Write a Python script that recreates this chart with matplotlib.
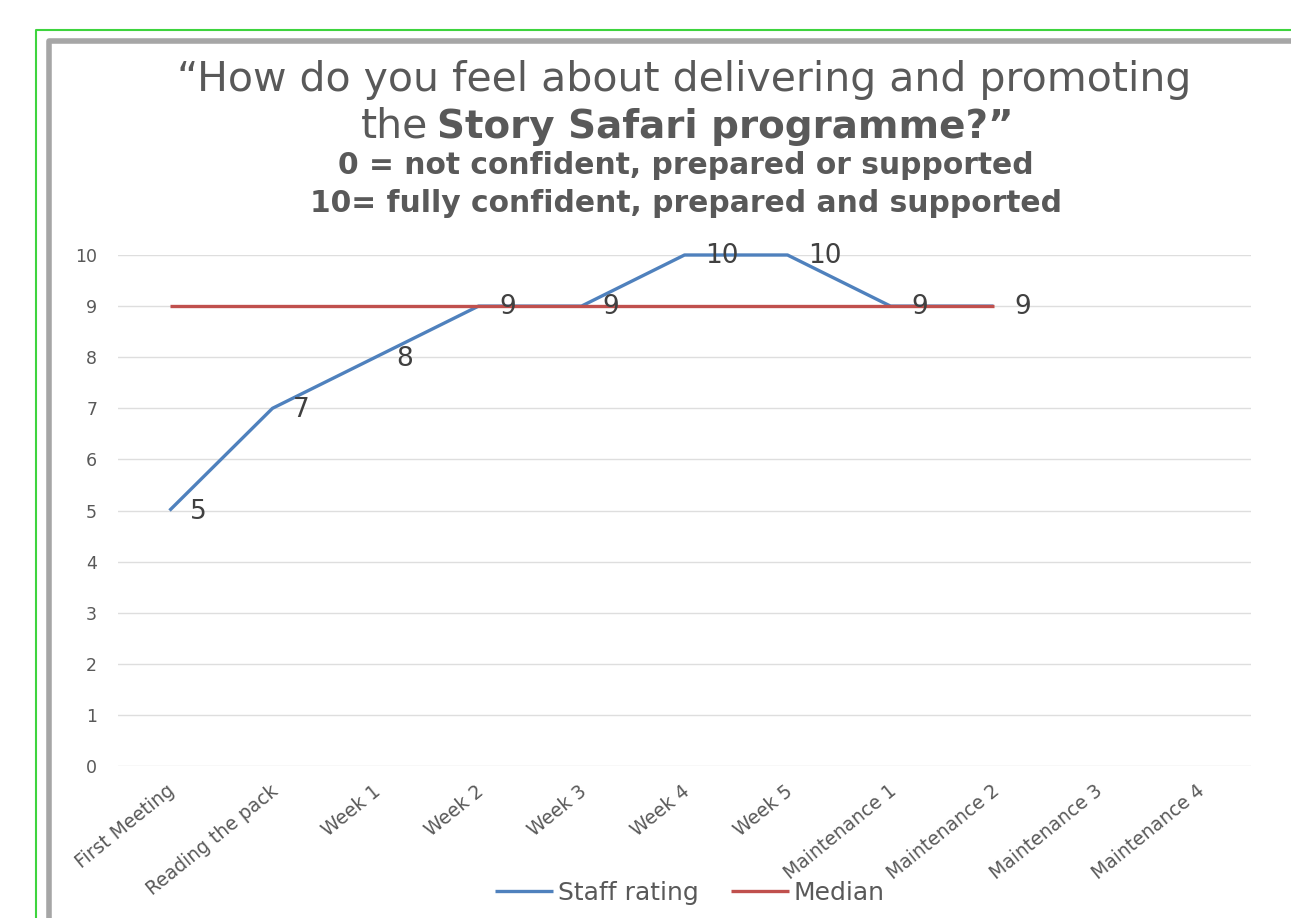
import matplotlib
matplotlib.use("Agg")
import matplotlib.pyplot as plt
from matplotlib.lines import Line2D
from matplotlib.transforms import offset_copy

# the reference text is wide (stretched Arial), DejaVu Sans is the closest width
plt.rcParams['font.family'] = ['DejaVu Sans']

# data
categories = ['First Meeting', 'Reading the pack', 'Week 1', 'Week 2', 'Week 3', 'Week 4',
              'Week 5', 'Maintenance 1', 'Maintenance 2', 'Maintenance 3', 'Maintenance 4']
staff_rating = [5, 7, 8, 9, 9, 10, 10, 9, 9]
median = [9, 9, 9, 9, 9, 9, 9, 9, 9]
y_ticks = list(range(0, 11))

W, H = 1291, 918
fig = plt.figure(figsize=(W / 100, H / 100), dpi=100)
fig.patch.set_facecolor('white')

def px(x, y):
    return x / W, 1 - y / H

# outer green frame and grey chart border (cut off on right / bottom)
fig.add_artist(Line2D([36 / W, 36 / W, 1.0], [0, 1 - 30 / H, 1 - 30 / H],
                      color='#3ed43e', lw=1.5, transform=fig.transFigure))
fig.add_artist(Line2D([48.5 / W, 48.5 / W, 1.0], [0, 1 - 40.5 / H, 1 - 40.5 / H],
                      color='#a6a6a6', lw=4, transform=fig.transFigure,
                      solid_capstyle='butt'))

ax = fig.add_axes([118 / W, 152 / H, (1251 - 118) / W, (663 - 152) / H])
x = list(range(len(categories)))
ax.set_xlim(-0.5, len(categories) - 0.5)
ax.set_ylim(0, 10)

ax.plot(x[:len(staff_rating)], staff_rating, color='#4f81bd', lw=2.4,
        label='Staff rating', clip_on=False, zorder=3, solid_capstyle='butt')
ax.plot(x[:len(median)], median, color='#c0504d', lw=2.4,
        label='Median', clip_on=False, zorder=4, solid_capstyle='butt')

for xi, v in zip(x, staff_rating):
    ax.annotate(str(v), (xi, v), xytext=(15, -1), textcoords='offset points',
                ha='left', va='center', fontsize=19, color='#404040', zorder=5)

ax.set_yticks(y_ticks)
ax.set_xticks(x)
ax.set_xticklabels([])
ax.grid(axis='y', color='#dedede', lw=1)
ax.set_axisbelow(True)
for s in ax.spines.values():
    s.set_visible(False)
ax.tick_params(axis='both', length=0, labelsize=12.5, labelcolor='#595959')
ax.tick_params(axis='y', pad=15)

# rotated category labels
for xi, lab in zip(x, categories):
    tr = offset_copy(ax.get_xaxis_transform(), fig=fig, x=-2, y=-11, units='points')
    ax.text(xi, 0, lab, transform=tr, rotation=39, rotation_mode='anchor',
            ha='right', va='top', fontsize=13.5, color='#595959')

# title
tc = '#595959'
fig.text(*px(684, 80), '\u201cHow do you feel about delivering and promoting',
         ha='center', va='center', fontsize=29.5, color=tc)
fig.text(*px(428, 127), 'the', ha='right', va='center', fontsize=29.5, color=tc)
fig.text(*px(437, 127), 'Story Safari programme?\u201d', ha='left', va='center',
         fontsize=28, color=tc, fontweight='bold')
fig.text(*px(686, 166), '0 = not confident, prepared or supported',
         ha='center', va='center', fontsize=21.4, color=tc, fontweight='bold')
fig.text(*px(686, 203), '10= fully confident, prepared and supported',
         ha='center', va='center', fontsize=21.4, color=tc, fontweight='bold')

leg = fig.legend(loc='center', bbox_to_anchor=px(690, 893), ncol=2, frameon=False,
                 fontsize=18, handlelength=2.3, handletextpad=0.2, columnspacing=1.3,
                 labelcolor='#595959')

fig.savefig('out.png', dpi=100)
